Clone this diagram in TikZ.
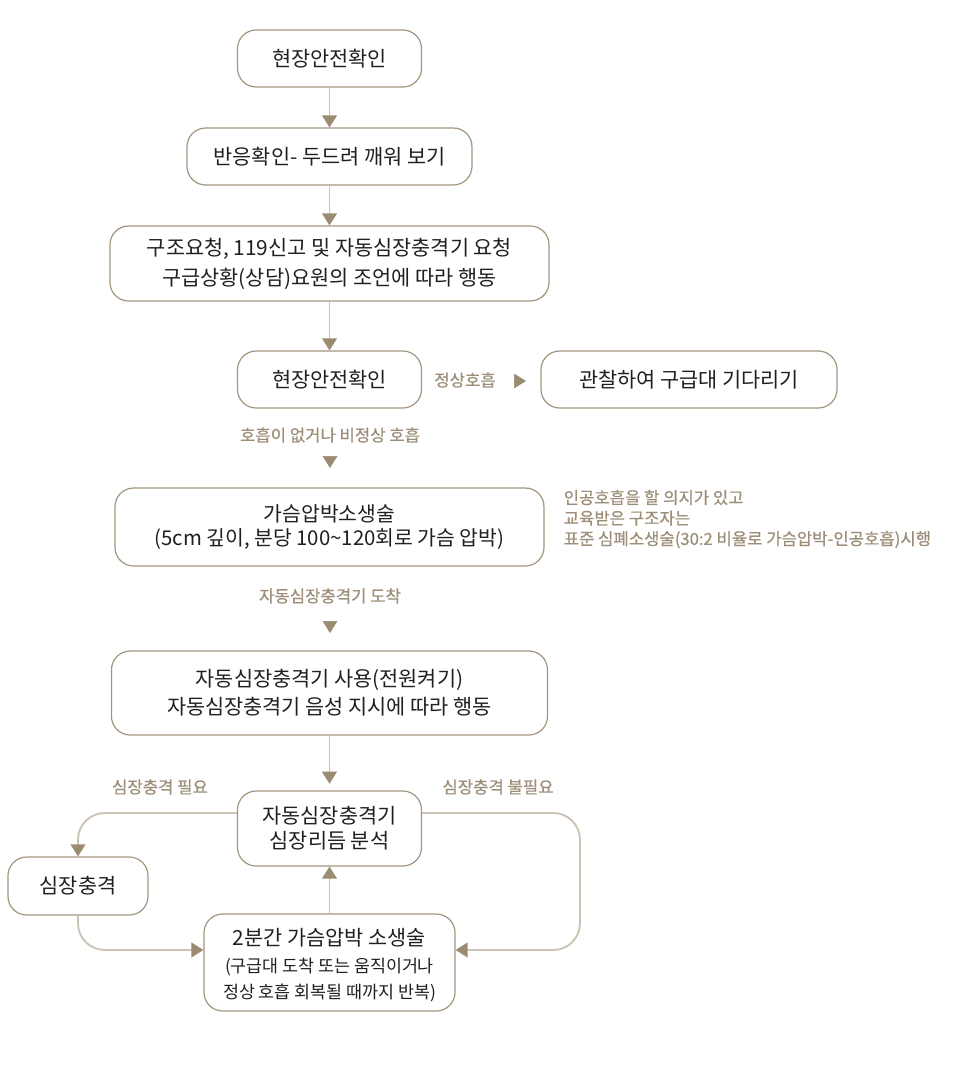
\documentclass[tikz,border=0pt]{standalone}
\usepackage{fontspec}
\setmainfont{Noto Sans CJK KR}
\newfontfamily\lblfont[FakeBold=0.6]{Noto Sans CJK KR}
\usetikzlibrary{arrows.meta}
\definecolor{bordc}{HTML}{A39580}
\definecolor{linec}{HTML}{CBC2B4}
\definecolor{tipc}{HTML}{9A8B71}
\definecolor{lblc}{HTML}{9C8E78}
\definecolor{txtc}{HTML}{231F20}

\begin{document}
\begin{tikzpicture}[x=0.75pt,y=-0.75pt,
  every node/.style={font=\fontsize{15.6}{21}\selectfont,text=txtc},
  box/.style={draw=bordc,line width=0.9pt,rounded corners=14pt,fill=white,align=center,inner sep=0pt},
  lbl/.style={text=lblc,font=\lblfont\fontsize{12.5}{15.4}\selectfont},
  conn/.style={draw=linec,line width=1.4pt,-{Triangle[width=11pt,length=9pt,color=tipc]}},
  tip/.style={draw=tipc,-{Triangle[width=11pt,length=9pt,color=tipc]}}]
  \useasboundingbox (0,0) rectangle (957,1078);
  \node[box,minimum width=138pt,minimum height=42.75pt] (b1) at (329.5,58.5) {현장안전확인};
  \node[box,minimum width=213.75pt,minimum height=42.75pt] (b2) at (329.5,156.5) {반응확인- 두드려 깨워 보기};
  \node[box,minimum width=329.25pt,minimum height=56.25pt,font=\fontsize{15.6}{22.5}\selectfont] (b3) at (329.5,263.5) {구조요청, 119신고 및 자동심장충격기 요청\\구급상황(상담)요원의 조언에 따라 행동};
  \node[box,minimum width=138pt,minimum height=42.75pt] (b4) at (329.5,379.5) {현장안전확인};
  \node[box,minimum width=222pt,minimum height=42.75pt] (b5) at (689,379.5) {관찰하여 구급대 기다리기};
  \node[box,minimum width=321.75pt,minimum height=58.5pt,font=\fontsize{15.3}{18.5}\selectfont] (b6) at (329.5,527) {가슴압박소생술\\(5cm 깊이, 분당 100\textasciitilde 120회로 가슴 압박)};
  \node[box,minimum width=327pt,minimum height=63pt] (b7) at (329.5,693) {자동심장충격기 사용(전원켜기)\\자동심장충격기 음성 지시에 따라 행동};
  \node[box,minimum width=138pt,minimum height=56.25pt,font=\fontsize{15.6}{19}\selectfont] (b8) at (329.5,828.5) {자동심장충격기\\심장리듬 분석};
  \node[box,minimum width=105pt,minimum height=43.5pt] (b9) at (78,886) {심장충격};
  \node[box,minimum width=188.25pt,minimum height=72.75pt,font=\fontsize{15.6}{20}\selectfont] (b10) at (329.5,962.5)
    {\rule{0pt}{17pt}2분간 가슴압박 소생술\\\fontsize{13}{17}\selectfont(구급대 도착 또는 움직이거나\\\fontsize{13}{17}\selectfont 정상 호흡 회복될 때까지 반복)};

  % labels
  \node[lbl] (lOk) at (465,380) {정상호흡};
  \node[lbl] (lNo) at (330,435) {호흡이 없거나 비정상 호흡};
  \node[lbl,anchor=west,align=left] (lNote) at (559,519) {인공호흡을 할 의지가 있고\\교육받은 구조자는\\표준 심폐소생술(30:2 비율로 가슴압박-인공호흡)시행};
  \node[lbl] (lAed) at (330,596) {자동심장충격기 도착};
  \node[lbl] (lYes) at (160,787) {심장충격 필요};
  \node[lbl] (lNot) at (498,787) {심장충격 불필요};

  \coordinate (tOk) at (514,381); \coordinate (tOke) at (526,381);
  \coordinate (tNo) at (330,456); \coordinate (tNoe) at (330,468);
  \coordinate (tAed) at (330,621); \coordinate (tAede) at (330,633);
  \coordinate (rTurn) at (580,813);

  \draw[conn] (b1) -- (b2);
  \draw[conn] (b2) -- (b3);
  \draw[conn] (b3) -- (b4);
  \draw[tip] (tOk) -- (tOke);
  \draw[tip] (tNo) -- (tNoe);
  \draw[tip] (tAed) -- (tAede);
  \draw[conn,shorten >=5pt] (b7) -- (b8);
  \draw[conn,rounded corners=20pt] ([yshift=11.6pt]b8.west) -| (b9.north);
  \draw[conn,rounded corners=20pt] (b9.south) |- ([yshift=9.4pt]b10.west);
  \draw[conn] (b10) -- (b8);
  \draw[conn,rounded corners=20pt] ([yshift=11.6pt]b8.east) -- (rTurn) |- ([yshift=9.4pt]b10.east);
\end{tikzpicture}
\end{document}
